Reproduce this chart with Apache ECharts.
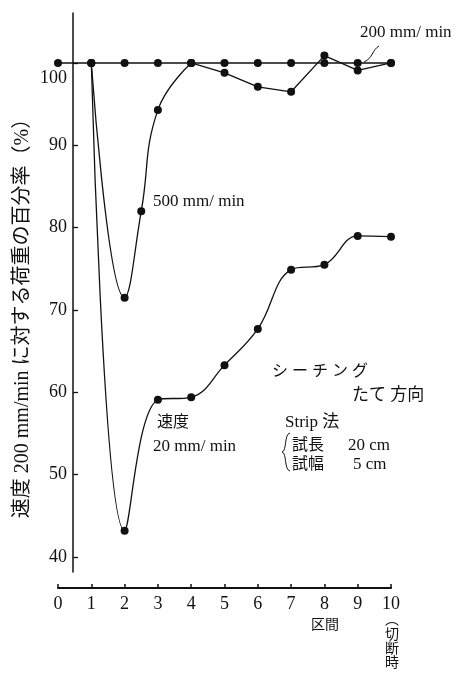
<!DOCTYPE html>
<html>
<head>
<meta charset="utf-8">
<script src="https://cdn.jsdelivr.net/npm/echarts@6/dist/echarts.min.js"></script>
<style>
  html, body { margin: 0; padding: 0; background: #fff; }
  #chart { width: 457px; height: 674px; }
</style>
</head>
<body>
<div id="chart"></div>
<script>
// Section positions along the strip (区間) and load ratios in % of the 200 mm/min load
const sections = [0, 1, 2, 3, 4, 5, 6, 7, 8, 9, 10];
const load200 = [100, 100, 100, 100, 100, 100, 100, 100, 100, 100, 100];

const x500 = [1, 2, 2.5, 3, 4, 5, 6, 7, 8, 9, 10];
const load500 = [100, 71.5, 82.0, 94.3, 100, 98.8, 97.1, 96.5, 100.9, 99.1, 100];

const x20 = [1, 2, 3, 4, 5, 6, 7, 8, 9, 10];
const load20 = [100, 43.2, 59.1, 59.4, 63.3, 67.7, 74.9, 75.5, 79.0, 78.9];

const yTicks = [40, 50, 60, 70, 80, 90, 100];
const xTicks = [0, 1, 2, 3, 4, 5, 6, 7, 8, 9, 10];

const FONT = "'Liberation Serif', 'Noto Sans CJK JP', serif";
const INK = '#111';

const pairs = (xs, ys) => xs.map((x, i) => [x, ys[i]]);
const p500 = pairs(x500, load500);
const p20 = pairs(x20, load20);

const lineBase = {
  type: 'line',
  symbol: 'circle',
  symbolSize: 8,
  itemStyle: { color: INK },
  lineStyle: { color: INK, width: 1.3 },
  emphasis: { disabled: true },
  animation: false,
  z: 3
};

const chart = echarts.init(document.getElementById('chart'), null, { renderer: 'canvas' });

const text = (t, x, y, opts) => ({
  type: 'text',
  x: x, y: y,
  z: 10,
  style: Object.assign({
    text: t,
    font: '17px ' + FONT,
    fill: INK,
    align: 'left',
    verticalAlign: 'middle'
  }, opts || {})
});

chart.setOption({
  backgroundColor: '#fff',
  animation: false,
  grid: { left: 58, right: 66, top: 13, bottom: 102, containLabel: false },
  xAxis: {
    type: 'value',
    min: 0, max: 10, interval: 1,
    offset: 16,
    axisLine: { onZero: false, lineStyle: { color: INK, width: 2.2 } },
    axisTick: { inside: true, length: 4, lineStyle: { color: INK, width: 1.5 },
                customValues: xTicks },
    axisLabel: { color: INK, fontFamily: FONT, fontSize: 18, margin: 7,
                 customValues: xTicks },
    splitLine: { show: false }
  },
  yAxis: {
    type: 'value',
    min: 38.18, max: 106.07,
    offset: -15,
    name: '速度 200 mm/min に対する荷重の百分率（%）',
    nameLocation: 'middle',
    nameGap: 40,
    nameMoveOverlap: false,
    nameRotate: 90,
    nameTextStyle: { color: INK, fontFamily: FONT, fontSize: 20, padding: [0, 42, 0, 0] },
    axisLine: { onZero: false, lineStyle: { color: INK, width: 1.5 } },
    axisTick: { inside: true, length: 5, lineStyle: { color: INK, width: 1.3 },
                customValues: yTicks },
    axisLabel: {
      color: INK, fontFamily: FONT, fontSize: 18, margin: 6,
      customValues: yTicks,
      formatter: v => (v === 100 ? '{low|100}' : String(v)),
      rich: { low: { fontFamily: FONT, fontSize: 18, color: INK, padding: [30, 0, 0, 0] } }
    },
    splitLine: { show: false }
  },
  series: [
    Object.assign({}, lineBase, { name: '200 mm/min', data: pairs(sections, load200) }),
    Object.assign({}, lineBase, { name: '500 mm/min', data: p500.slice(0, 5), smooth: 0.45 }),
    Object.assign({}, lineBase, { name: '500 mm/min', data: p500.slice(4) }),
    Object.assign({}, lineBase, { name: '20 mm/min', data: p20, smooth: 0.4 })
  ],
  graphic: [
    text('200 mm/ min', 360, 33),
    { type: 'bezierCurve', z: 10,
      shape: { x1: 379, y1: 46, cpx1: 372, cpy1: 50, cpx2: 373, cpy2: 58, x2: 364, y2: 62 },
      style: { stroke: INK, lineWidth: 1, fill: null } },
    text('500 mm/ min', 153, 202),
    text('速度', 157, 423, { font: '16px ' + FONT }),
    text('20 mm/ min', 153, 447),
    text('シ ー チ ン グ', 272, 372, { font: '16px ' + FONT }),
    text('たて 方向', 352, 396),
    text('Strip 法', 285, 423),
    { type: 'bezierCurve', z: 10,
      shape: { x1: 290, y1: 433, cpx1: 284, cpy1: 434, cpx2: 287, cpy2: 451, x2: 282, y2: 452 },
      style: { stroke: INK, lineWidth: 1, fill: null } },
    { type: 'bezierCurve', z: 10,
      shape: { x1: 282, y1: 452, cpx1: 287, cpy1: 453, cpx2: 284, cpy2: 470, x2: 290, y2: 471 },
      style: { stroke: INK, lineWidth: 1, fill: null } },
    text('試長', 292, 446, { font: '16px ' + FONT }),
    text('20 cm', 348, 446),
    text('試幅', 292, 465, { font: '16px ' + FONT }),
    text('5 cm', 353, 465),
    text('区間', 311, 625, { font: '14px ' + FONT }),
    text('︵', 392, 613, { font: '14px ' + FONT, align: 'center', verticalAlign: 'top' }),
    text('切\n断\n時', 392, 628, { font: '14px ' + FONT, align: 'center', verticalAlign: 'top', lineHeight: 14 })
  ]
});
</script>
</body>
</html>
